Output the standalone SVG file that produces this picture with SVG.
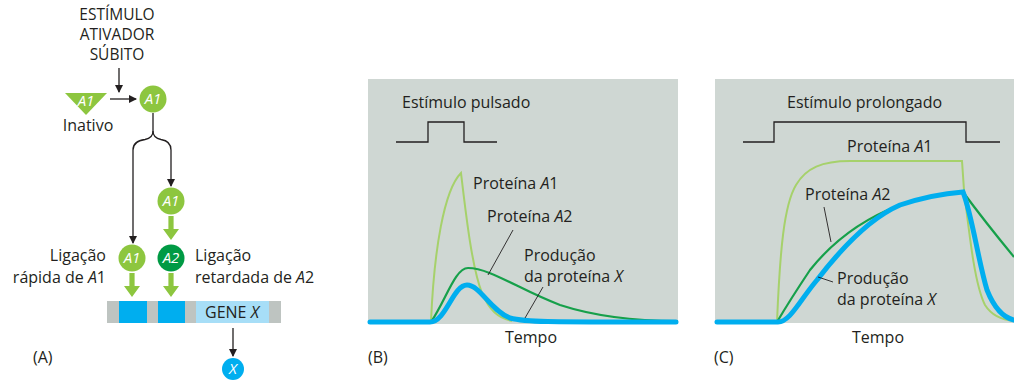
<svg xmlns="http://www.w3.org/2000/svg" width="1014" height="380" viewBox="0 0 1014 380">
<style>
text{font-family:"Open Sans","Noto Sans",sans-serif;font-size:16px;fill:#231f20}
.it{font-style:italic}
.caps{font-size:15.5px;text-anchor:middle}
.wt{fill:#fff;font-size:15px;font-style:italic;text-anchor:middle}
.blk{stroke:#231f20;stroke-width:1.3;fill:none}
.lead{stroke:#231f20;stroke-width:0.9;fill:none}
.garr{fill:#8dc63f}
.panel{fill:#cfd7d3}
.lg{stroke:#a6d16b;stroke-width:2;fill:none}
.dg{stroke:#16a04a;stroke-width:2.2;fill:none}
.bl{stroke:#00aeef;stroke-width:5;fill:none;stroke-linecap:round}
.step{stroke:#231f20;stroke-width:1.3;fill:none}
</style>
<defs>
<marker id="ah" markerWidth="8" markerHeight="8" refX="7" refY="4" orient="auto" markerUnits="userSpaceOnUse">
<path d="M0,0 L8,4 L0,8 Z" fill="#231f20"/>
</marker>
<path id="garrow" d="M-2.6,0 H2.6 V13 H8 L0,24 L-8,13 H-2.6 Z"/>
</defs>

<!-- Panel B -->
<g id="panel-b">
<rect class="panel" x="368" y="79" width="310" height="245"/>
<text x="402" y="108">Estímulo pulsado</text>
<path class="step" d="M396,142 H428 V122 H464 V142 H497"/>
<path class="lg" d="M431,322 C434,250 444,190 461,173 C466,215 472,268 482,293 C489,310 498,318 512,321"/>
<path class="dg" d="M431,322 C446,300 455,268 468,268 C490,268 520,290 560,305 C600,318 640,321 678,321"/>
<path class="bl" d="M370,322 H430 C446,322 453,285 467,285 C480,285 490,310 510,318 C525,322 540,322 676,322"/>
<text x="473" y="189">Proteína <tspan class="it">A</tspan>1</text>
<text x="487" y="222">Proteína <tspan class="it">A</tspan>2</text>
<text x="524" y="261">Produção</text>
<text x="524" y="282">da proteína <tspan class="it">X</tspan></text>
<text x="531" y="343" text-anchor="middle">Tempo</text>
<text x="368" y="363">(B)</text>
</g>

<!-- Panel C -->
<g id="panel-c">
<rect class="panel" x="715" y="79" width="299" height="244"/>
<text x="787" y="108">Estímulo prolongado</text>
<path class="step" d="M743,142 H774 V122 H966 V142 H1000"/>
<path class="lg" d="M777,322 C780,250 784,205 796,185 C806,168 822,161 850,161 H962 L964,190 C970,240 975,285 985,305 C992,316 1002,320 1014,321"/>
<path class="dg" d="M777,322 C790,300 800,285 810,270 C830,245 860,220 900,205 C930,196 950,193 963,192 C980,215 1000,240 1014,257"/>
<path class="bl" d="M717,322 H778 C790,322 800,300 817,280 C840,250 870,218 900,205 C930,195 950,193 963,192 C972,215 978,260 987,290 C995,310 1005,318 1014,320"/>
<text x="847" y="152">Proteína <tspan class="it">A</tspan>1</text>
<text x="805" y="200">Proteína <tspan class="it">A</tspan>2</text>
<text x="837" y="284">Produção</text>
<text x="837" y="305">da proteína <tspan class="it">X</tspan></text>
<text x="878" y="343" text-anchor="middle">Tempo</text>
<text x="714" y="363">(C)</text>
</g>

<!-- Panel A -->
<g id="stimulus">
<text class="caps" x="117" y="20">ESTÍMULO</text>
<text class="caps" x="117" y="40">ATIVADOR</text>
<text class="caps" x="117" y="60">SÚBITO</text>
</g>
<g id="a1-inactive">
<path d="M65,93 L107,93 L86,115 Z" fill="#8dc63f"/>
<text class="wt" x="86" y="106">A1</text>
<text x="88" y="131" text-anchor="middle">Inativo</text>
</g>
<g id="a1-active">
<circle cx="153" cy="99" r="13.5" fill="#8dc63f"/>
<text class="wt" x="153" y="104">A1</text>
</g>
<g id="a1-mid">
<circle cx="171" cy="201" r="13.5" fill="#8dc63f"/>
<text class="wt" x="171" y="206">A1</text>
</g>
<g id="a1-bind">
<circle cx="132" cy="258" r="13.5" fill="#8dc63f"/>
<text class="wt" x="132" y="263">A1</text>
</g>
<g id="a2-bind">
<circle cx="171" cy="258" r="13.5" fill="#009a44"/>
<text class="wt" x="171" y="263">A2</text>
</g>
<g id="label-fast">
<text x="106" y="261" text-anchor="end">Ligação</text>
<text x="106" y="283" text-anchor="end">rápida de <tspan class="it">A</tspan>1</text>
</g>
<g id="label-slow">
<text x="195" y="261">Ligação</text>
<text x="195" y="283">retardada de <tspan class="it">A</tspan>2</text>
</g>
<g id="gene">
<rect x="107" y="301" width="174" height="22" fill="#bec4c1"/>
<rect x="119" y="301" width="28" height="22" fill="#00aeef"/>
<rect x="158" y="301" width="27" height="22" fill="#00aeef"/>
<rect x="196" y="301" width="73" height="22" fill="#a7def7"/>
<text x="232" y="318" text-anchor="middle">GENE <tspan class="it">X</tspan></text>
</g>
<g id="protein-x">
<circle cx="233" cy="369" r="11" fill="#00aeef"/>
<text class="wt" x="233" y="374">X</text>
</g>
<text x="33" y="363">(A)</text>

<g id="connectors">
<line class="blk" x1="119" y1="68" x2="119" y2="92" marker-end="url(#ah)"/>
<line class="blk" x1="110" y1="99" x2="136" y2="99" marker-end="url(#ah)"/>
<path class="blk" d="M153,113 V131 Q153,138 145,139.5 Q133,141 133,150 V243" marker-end="url(#ah)"/>
<path class="blk" d="M153,131 Q153,138 161,139.5 Q171,141 171,150 V186" marker-end="url(#ah)"/>
<use href="#garrow" class="garr" x="171" y="216"/>
<use href="#garrow" class="garr" x="132" y="273"/>
<use href="#garrow" class="garr" x="171" y="273"/>
<line class="blk" x1="233" y1="328" x2="233" y2="356" marker-end="url(#ah)"/>
<line class="lead" x1="513" y1="230" x2="488" y2="275"/>
<line class="lead" x1="543" y1="287" x2="525" y2="318"/>
<line class="lead" x1="824" y1="207" x2="831" y2="242"/>
<line class="lead" x1="818" y1="277" x2="833" y2="282"/>
</g>
</svg>
